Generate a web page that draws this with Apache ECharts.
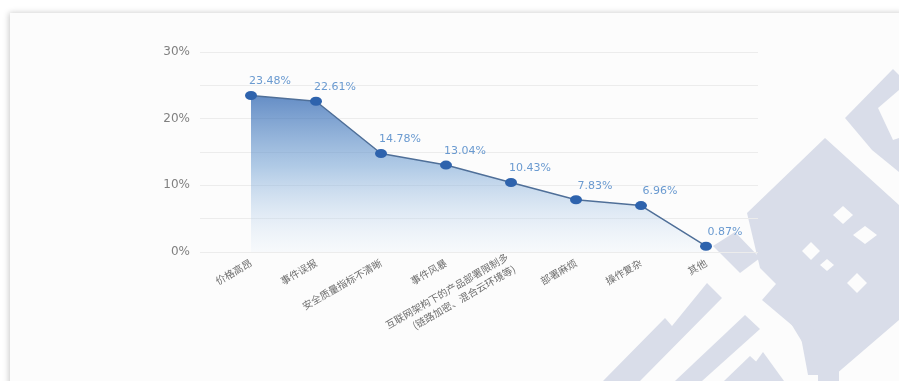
<!DOCTYPE html>
<html>
<head>
<meta charset="utf-8">
<script src="https://cdn.jsdelivr.net/npm/echarts@6/dist/echarts.min.js"></script>
<style>
  html, body { margin: 0; padding: 0; background: #ffffff; }
  #chart { width: 899px; height: 381px; }
</style>
</head>
<body>
<div id="chart"></div>
<script>
// Categories (pain points) and their share, in percent
const categories = [
  '价格高昂',
  '事件误报',
  '安全质量指标不清晰',
  '事件风暴',
  '互联网架构下的产品部署限制多\n(链路加密、混合云环境等)',
  '部署麻烦',
  '操作复杂',
  '其他'
];
const shares = [23.48, 22.61, 14.78, 13.04, 10.43, 7.83, 6.96, 0.87];
const yTicks = [0, 10, 20, 30];

// Light watermark shapes drawn behind the plot
const wmColor = '#d9dde9';
const wmShapes = [
  [[845,118],[893,69],[899,75],[899,172],[872,150]],
  [[747,213],[825,138],[899,205],[899,320],[835,375],[808,375],[800,332],[762,300],[776,284],[760,268]],
  [[713,246],[735,232],[760,258],[740,273]],
  [[603,381],[665,318],[672,326],[707,283],[722,298],[640,381]],
  [[675,381],[745,315],[760,329],[702,381]],
  [[724,381],[750,356],[763,368],[750,381]],
  [[742,381],[763,352],[784,381]],
  [[790,322],[808,322],[829,350],[860,322],[885,322],[839,368],[839,381],[818,381],[818,368]]
];
const wmHoles = [
  [[878,108],[899,90],[899,138],[893,140]],
  [[802,251],[811,242],[820,251],[811,260]],
  [[833,215],[843,206],[853,215],[843,224]],
  [[820,265],[827,259],[834,265],[827,271]],
  [[853,235],[865,226],[877,235],[865,244]],
  [[847,283],[857,273],[867,283],[857,293]]
];

const graphics = [{
  type: 'rect',
  z: -20,
  shape: { x: 10, y: 13, width: 895, height: 375 },
  style: { fill: '#fcfcfc', shadowBlur: 6, shadowColor: 'rgba(0,0,0,0.22)', shadowOffsetX: -1 }
}];
wmShapes.forEach(p => graphics.push({ type: 'polygon', z: -10, shape: { points: p }, style: { fill: wmColor } }));
wmHoles.forEach(p => graphics.push({ type: 'polygon', z: -9, shape: { points: p }, style: { fill: '#fcfcfc' } }));

const chart = echarts.init(document.getElementById('chart'));
chart.setOption({
  backgroundColor: '#ffffff',
  animation: false,
  graphic: graphics,
  grid: [
    { left: 200, right: 141, top: 52, bottom: 129 },
    { left: 251, right: 193, top: 52, bottom: 129 }
  ],
  xAxis: [
    { type: 'value', gridIndex: 0, show: false, min: 0, max: 1 },
    {
      type: 'category',
      gridIndex: 1,
      data: categories,
      boundaryGap: false,
      axisLine: { show: false },
      axisTick: { show: false },
      axisLabel: {
        interval: 0,
        rotate: 30,
        margin: 10,
        fontSize: 10,
        lineHeight: 14,
        color: '#6e6e6e',
        fontFamily: 'Noto Sans CJK SC'
      }
    }
  ],
  yAxis: [
    {
      type: 'value',
      gridIndex: 0,
      min: 0,
      max: 30,
      interval: 5,
      axisLine: { show: false },
      axisTick: { show: false },
      splitLine: { lineStyle: { color: '#ececec', width: 1 } },
      axisLabel: {
        margin: 10,
        fontSize: 12,
        color: '#808080',
        fontFamily: 'DejaVu Sans',
        formatter: v => (yTicks.indexOf(v) >= 0 ? v + '%' : '')
      }
    },
    { type: 'value', gridIndex: 1, min: 0, max: 30, show: false }
  ],
  series: [{
    type: 'line',
    xAxisIndex: 1,
    yAxisIndex: 1,
    data: shares,
    symbol: 'circle',
    symbolSize: [12, 9],
    itemStyle: { color: '#2e63ad' },
    lineStyle: { color: '#4f6f98', width: 1.5 },
    areaStyle: {
      color: {
        type: 'linear', x: 0, y: 0, x2: 0, y2: 1,
        colorStops: [
          { offset: 0, color: 'rgba(36,94,174,1)' },
          { offset: 0.45, color: 'rgba(115,162,212,0.8)' },
          { offset: 1, color: 'rgba(232,241,250,0.35)' }
        ]
      }
    },
    label: {
      show: true,
      position: 'top',
      distance: 4,
      offset: [19, 0],
      fontSize: 11,
      color: '#6a9ad0',
      fontFamily: 'DejaVu Sans',
      formatter: p => p.value.toFixed(2) + '%'
    }
  }]
});
</script>
</body>
</html>
